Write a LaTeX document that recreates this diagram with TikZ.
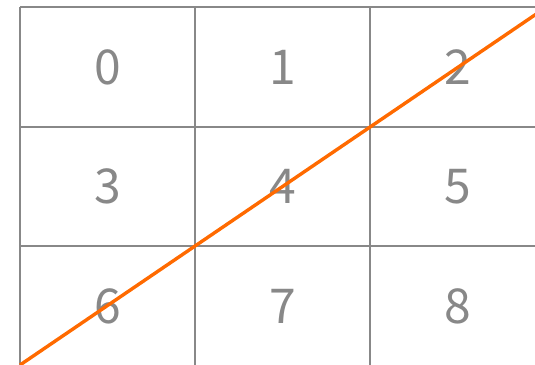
\documentclass[tikz,border=0pt]{standalone}
\usepackage{fontspec}
\setmainfont{Noto Sans CJK SC}
\definecolor{gridgray}{HTML}{888888}
\definecolor{lineorange}{HTML}{FF6A00}
\begin{document}
\begin{tikzpicture}[x=1pt,y=-1pt,
  gridline/.style={draw=gridgray,line width=2.6pt},
  cellnum/.style={text=gridgray,font=\fontsize{48}{48}\selectfont,inner sep=0pt,anchor=center},
  diag/.style={draw=lineorange,line width=3.4pt}]
\useasboundingbox (0,0) rectangle (535,364);
\begin{scope}
\clip (0,0) rectangle (535,364);
% grid
\draw[gridline] (20,7) -- (545,7);
\draw[gridline] (20,127) -- (545,127);
\draw[gridline] (20,246) -- (545,246);
\draw[gridline] (20,7) -- (20,370);
\draw[gridline] (195,7) -- (195,370);
\draw[gridline] (370,7) -- (370,370);
% numbers
\foreach \r in {0,1,2}{
  \foreach \c in {0,1,2}{
    \pgfmathtruncatemacro{\n}{3*\r+\c}
    \node[cellnum] (n\n) at ({107.5+175*\c},{67+119.5*\r}) {\n};
  }
}
% diagonal
\coordinate (ds) at (20,365);
\coordinate (de) at (545,8.1);
\draw[diag] (ds) -- (de);
\end{scope}
\end{tikzpicture}
\end{document}
